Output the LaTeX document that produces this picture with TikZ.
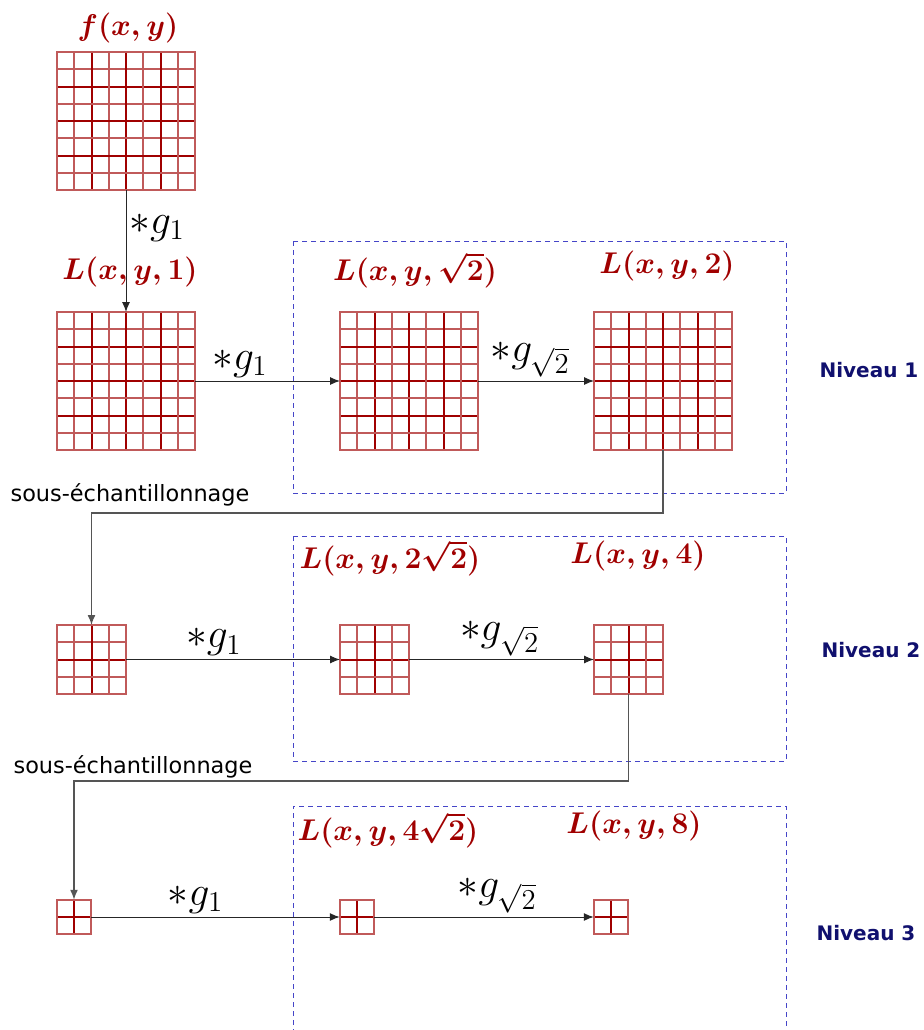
\RequirePackage{fix-cm}
\documentclass[tikz,border=0pt]{standalone}
\usepackage{amsmath}
\usepackage{fontspec}
\usepackage{tikz}
\usetikzlibrary{arrows.meta,calc}
\newfontfamily\dejavu{DejaVu Sans}
\definecolor{scalered}{HTML}{A00000}
\definecolor{scalepale}{HTML}{C05A5A}
\definecolor{levelblue}{HTML}{4545C8}
\definecolor{levelnavy}{HTML}{10106E}
\definecolor{samplegray}{HTML}{555555}

\begin{document}
\begin{tikzpicture}[
    x=0.5pt,y=-0.5pt,
    lab/.style={text=scalered,font=\fontsize{15}{18}\selectfont\boldmath,inner sep=0pt},
    conv/.style={font=\fontsize{20.74}{24}\selectfont,inner sep=1.5pt},
    level/.style={text=levelnavy,font=\dejavu\bfseries\fontsize{10}{12}\selectfont},
    samp/.style={font=\dejavu\fontsize{11.2}{13}\selectfont},
    pix/.style={draw=scalepale,line width=1pt,inner sep=0pt,outer sep=0pt,minimum size=#1*8.625pt,
      path picture={
        \pgfmathtruncatemacro\pixlast{#1-1}
        \foreach \k in {1,...,\pixlast}{
          \pgfmathtruncatemacro\pixstrong{(mod(\k,2)==0)||(#1==2)}
          \ifnum\pixstrong=1 \colorlet{pixline}{scalered}\else\colorlet{pixline}{scalepale}\fi
          \draw[pixline,line width=1pt]
            ($(path picture bounding box.north west)!\k/#1!(path picture bounding box.north east)$) --
            ($(path picture bounding box.south west)!\k/#1!(path picture bounding box.south east)$);
          \draw[pixline,line width=1pt]
            ($(path picture bounding box.north west)!\k/#1!(path picture bounding box.south west)$) --
            ($(path picture bounding box.north east)!\k/#1!(path picture bounding box.south east)$);
        }
      }},
    arr/.style={-{Latex[length=5pt,width=4pt]},draw=black!85,line width=0.5pt},
    down/.style={arr,draw=samplegray,line width=0.7pt},
    frame/.style={draw=levelblue,dash pattern=on 2.5pt off 2pt,line width=0.5pt}
  ]
    \useasboundingbox (0,0) rectangle (924,1030);

    % niveau 1
    \node[pix=8] (fxy) at (126,121) {};
    \node[lab] (fxylab) at (128,28) {$f(x,y)$};
    \node[pix=8] (l1) at (126,381) {};
    \node[lab] (l1lab) at (130,272) {$L(x,y,1)$};
    \node[pix=8] (l2) at (409,381) {};
    \node[lab] (l2lab) at (415,270) {$L(x,y,\sqrt{2})$};
    \node[pix=8] (l3) at (663,381) {};
    \node[lab] (l3lab) at (667,266) {$L(x,y,2)$};
    \draw[arr] (fxy) -- node[conv,right,pos=0.31] {$\ast g_1$} (l1);
    \draw[arr] (l1) -- node[conv,above,pos=0.31] {$\ast g_1$} (l2);
    \draw[arr] (l2) -- node[conv,above,pos=0.45] {$\ast g_{\sqrt{2}}$} (l3);
    \draw[frame] (293,241) rectangle (786,493);
    \node[level] (niv1) at (869,370) {Niveau 1};

    % niveau 2
    \node[pix=4] (l4) at (91.5,659.5) {};
    \node[pix=4] (l5) at (374.5,659.5) {};
    \node[lab] (l5lab) at (390,558) {$L(x,y,2\sqrt{2})$};
    \node[pix=4] (l6) at (628.5,659.5) {};
    \node[lab] (l6lab) at (638,556) {$L(x,y,4)$};
    \node[samp] (samp1) at (130,495) {sous-échantillonnage};
    \draw[down] (l3.south) -- ++(0,63) -| (l4.north);
    \draw[arr] (l4) -- node[conv,above,pos=0.41] {$\ast g_1$} (l5);
    \draw[arr] (l5) -- node[conv,above,pos=0.49] {$\ast g_{\sqrt{2}}$} (l6);
    \draw[frame] (293,536) rectangle (786,761);
    \node[level] (niv2) at (871,650) {Niveau 2};

    % niveau 3
    \node[pix=2] (l7) at (74,917) {};
    \node[pix=2] (l8) at (357,917) {};
    \node[lab] (l8lab) at (388,830) {$L(x,y,4\sqrt{2})$};
    \node[pix=2] (l9) at (611,917) {};
    \node[lab] (l9lab) at (634,826) {$L(x,y,8)$};
    \node[samp] (samp2) at (133,767) {sous-échantillonnage};
    \draw[down] (l6.south) -- ++(0,87) -| (l7.north);
    \draw[arr] (l7) -- node[conv,above,pos=0.42] {$\ast g_1$} (l8);
    \draw[arr] (l8) -- node[conv,above,pos=0.56] {$\ast g_{\sqrt{2}}$} (l9);
    \draw[frame] (293,1034) |- (786,806) -- (786,1034);
    \node[level] (niv3) at (866,933) {Niveau 3};
  \end{tikzpicture}
\end{document}
